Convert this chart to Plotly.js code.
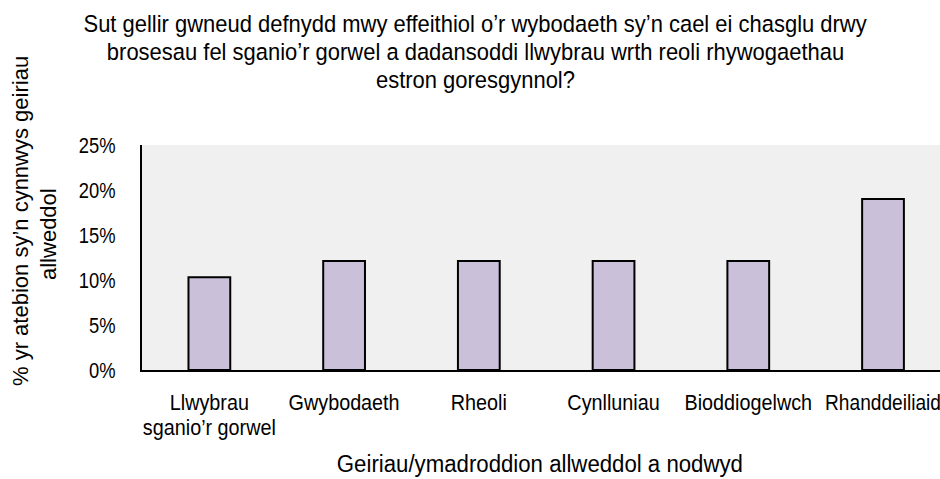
<!DOCTYPE html>
<html>
<head>
<meta charset="utf-8">
<script src="https://cdn.plot.ly/plotly-3.0.1.min.js"></script>
<style>html,body{margin:0;padding:0;background:#fff;}#chart{width:940px;height:479px;}</style>
</head>
<body>
<div id="chart"></div>
<script>
const categories = ["Llwybrau<br>sganio’r gorwel", "Gwybodaeth", "Rheoli", "Cynlluniau", "Bioddiogelwch", "Rhanddeiliaid"];
const values = [10.3, 12.1, 12.1, 12.1, 12.1, 19.0];
const yTickVals = [0, 5, 10, 15, 20, 25];
const yTickText = ["0%", "5%", "10%", "15%", "20%", "25%"];
const titleLines = [
  "Sut gellir gwneud defnydd mwy effeithiol o’r wybodaeth sy’n cael ei chasglu drwy",
  "brosesau fel sganio’r gorwel a dadansoddi llwybrau wrth reoli rhywogaethau",
  "estron goresgynnol?"
];
const xTitle = "Geiriau/ymadroddion allweddol a nodwyd";
const yTitleLines = ["% yr atebion sy’n cynnwys geiriau", "allweddol"];

const FONT = "'Liberation Sans', Arial, sans-serif";

const PL = 142, PR = 940, PT = 145, PB = 370;
const px2x = p => (p - PL) / (PR - PL);
const py2y = p => (PB - p) / (PB - PT);

const trace = {
  type: 'bar',
  x: categories.map((c, i) => i),
  y: values,
  width: 0.31,
  marker: {color: '#cbc0da', line: {color: '#000000', width: 2}},
  hoverinfo: 'skip'
};

const annotations = [];
const squeezeFactors = [];
const titleCenters = [24, 52, 80];
titleLines.forEach((t, i) => {
  annotations.push({text: t, xref: 'paper', yref: 'paper', x: px2x(475), y: py2y(titleCenters[i]),
    xanchor: 'center', yanchor: 'middle', showarrow: false,
    font: {family: FONT, size: 23.5, color: '#000'}});
  squeezeFactors.push(0.935);
});
annotations.push({text: xTitle, xref: 'paper', yref: 'paper', x: px2x(540), y: py2y(464),
  xanchor: 'center', yanchor: 'middle', showarrow: false,
  font: {family: FONT, size: 23.5, color: '#000'}});
squeezeFactors.push(0.945);
const yTitleX = [20, 48], yTitleY = [221, 234];
yTitleLines.forEach((t, i) => {
  annotations.push({text: t, xref: 'paper', yref: 'paper', x: px2x(yTitleX[i]), y: py2y(yTitleY[i]),
    xanchor: 'center', yanchor: 'middle', showarrow: false, textangle: -90,
    font: {family: FONT, size: 22, color: '#000'}});
  squeezeFactors.push(1);
});

const layout = {
  width: 940, height: 479,
  margin: {l: PL, r: 940 - PR, t: PT, b: 479 - PB},
  paper_bgcolor: '#ffffff',
  plot_bgcolor: '#f0f0f0',
  showlegend: false,
  font: {family: FONT, size: 22, color: '#000'},
  xaxis: {
    range: [-0.5, 5.423],
    tickmode: 'array',
    tickvals: categories.map((c, i) => i),
    ticktext: categories,
    tickangle: 0,
    ticklabeloverflow: 'allow',
    showline: true, linecolor: '#000', linewidth: 2,
    ticks: '', showgrid: false, zeroline: false,
    tickfont: {family: FONT, size: 22, color: '#000'},
    ticklabelstandoff: 12
  },
  yaxis: {
    range: [0, 25],
    tickmode: 'array',
    tickvals: yTickVals,
    ticktext: yTickText,
    showline: true, linecolor: '#000', linewidth: 2,
    ticks: '', showgrid: false, zeroline: false,
    tickfont: {family: FONT, size: 22, color: '#000'},
    ticklabelstandoff: 20
  },
  annotations: annotations
};

function squeeze(el, f) {
  if (f === 1) return;
  const x = parseFloat(el.getAttribute('x') || 0), y = parseFloat(el.getAttribute('y') || 0);
  const prev = el.getAttribute('transform') || '';
  el.setAttribute('transform', prev + ' translate(' + x + ',' + y + ') scale(' + f + ',1) translate(' + (-x) + ',' + (-y) + ')');
}

Plotly.newPlot('chart', [trace], layout, {displayModeBar: false, staticPlot: true}).then(gd => {
  const xt = gd.querySelectorAll('.xtick text');
  xt.forEach((t, i) => {
    squeeze(t, i === xt.length - 1 ? 0.87 : 0.9);
    t.querySelectorAll('tspan.line').forEach((s, k) => { if (k > 0) s.setAttribute('dy', '1.14em'); });
  });
  gd.querySelectorAll('.ytick text').forEach(t => squeeze(t, 0.835));
  gd.querySelectorAll('.annotation').forEach((a, i) => {
    const t = a.querySelector('text.annotation-text');
    if (t) squeeze(t, squeezeFactors[i]);
  });
});
</script>
</body>
</html>
